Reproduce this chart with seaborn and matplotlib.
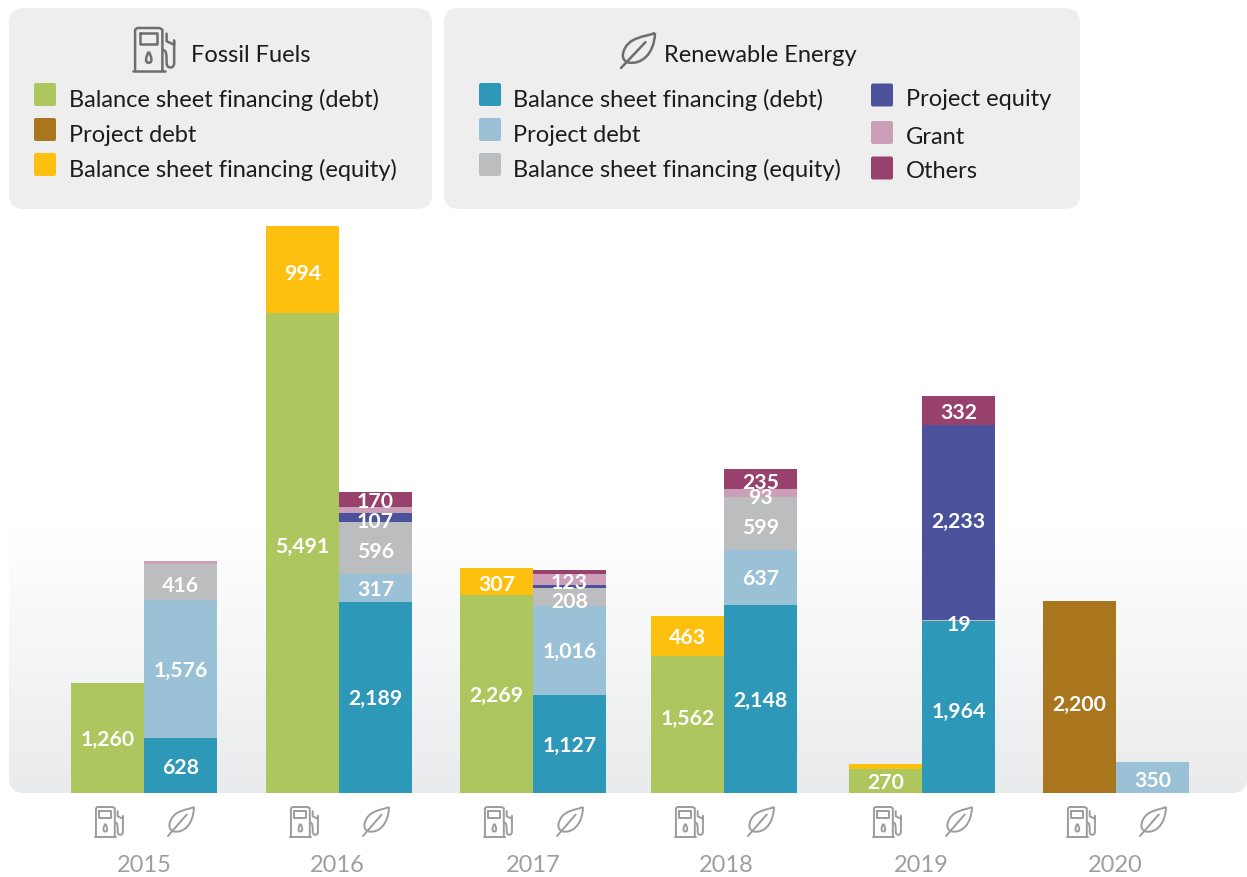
import numpy as np
import matplotlib
matplotlib.use("Agg")
import matplotlib.pyplot as plt
from matplotlib.patches import FancyBboxPatch, PathPatch
from matplotlib.path import Path
import seaborn as sns

# Data
years = ["2015", "2016", "2017", "2018", "2019", "2020"]

fossil_bs_debt = [1260, 5491, 2269, 1562, 270, 0]
fossil_project_debt = [0, 0, 0, 0, 0, 2200]
fossil_bs_equity = [0, 994, 307, 463, 65, 0]

renew_bs_debt = [628, 2189, 1127, 2148, 1964, 0]
renew_project_debt = [1576, 317, 1016, 637, 0, 350]
renew_bs_equity = [416, 596, 208, 599, 19, 0]
renew_project_equity = [0, 107, 30, 0, 2233, 0]
renew_grant = [35, 60, 123, 93, 0, 0]
renew_others = [0, 170, 45, 235, 332, 0]

unlabelled = {65, 30, 35, 60, 45}

legend_fossil = ["Balance sheet financing (debt)", "Project debt", "Balance sheet financing (equity)"]
legend_renew = ["Balance sheet financing (debt)", "Project debt", "Balance sheet financing (equity)"]
legend_renew2 = ["Project equity", "Grant", "Others"]

GREEN, BROWN, YELLOW = "#adc65e", "#a9761e", "#fec00f"
TEAL, LBLUE, GREY = "#2e98b9", "#9bc1d6", "#bcbdbf"
PURPLE, PINK, MAROON = "#4c519b", "#cb9fb8", "#97416c"
ICON_LIGHT = "#9b9c9f"
ICON_DARK = "#6d6e70"
TEXT_DARK = "#1c1c1c"

# Layout, all in reference pixels
W, H = 1247, 877
BASE = 793
PX_PER_UNIT = 0.0874
BAR_W = 73
centers = np.array([144, 339, 533, 724, 922, 1116])
year_x = [144, 337.5, 533, 726, 921, 1115]

# labels that don't sit at the middle of their band (px, + is down)
label_nudge = {5491: -8, 1562: -8, 2200: 6, 107: 3, 416: 2, 596: 2, 307: 2, 599: 3, 1964: 3,
               2233: -2, 19: 2, 123: 1, 208: 3, 93: 3, 235: 2, 350: 1, 994: 2, 332: 1}

sns.set_theme(style="white")
plt.rcParams["font.family"] = ["Lato", "DejaVu Sans"]

fig = plt.figure(figsize=(W / 100, H / 100), dpi=100)
bg = fig.add_axes([0, 0, 1, 1], zorder=0)
bg.set_xlim(0, W)
bg.set_ylim(H, 0)
bg.axis("off")

ax = fig.add_axes([0, 0, 1, 1], zorder=1)
ax.patch.set_alpha(0)


def rounded(x0, y0, x1, y1, color, r=15, axes=bg, **kw):
    p = FancyBboxPatch((x0 + r, y0 + r), x1 - x0 - 2 * r, y1 - y0 - 2 * r,
                       boxstyle=f"round,pad={r},rounding_size={r}",
                       fc=color, ec="none", **kw)
    axes.add_patch(p)
    return p


def pump(x, y, w, h, color, lw):
    def X(u):
        return x + u * w

    def Y(v):
        return y + v * h

    kw = dict(color=color, lw=lw, solid_capstyle="round", solid_joinstyle="round")
    # body, base, window
    bg.plot(X(np.array([0.05, 0.05, 0.10, 0.63, 0.70, 0.70])), Y(np.array([0.97, 0.04, 0, 0, 0.04, 0.97])), **kw)
    bg.plot([X(0), X(0.75)], [Y(0.98), Y(0.98)], **kw)
    bg.plot(X(np.array([0.17, 0.58, 0.58, 0.17, 0.17])), Y(np.array([0.12, 0.12, 0.36, 0.36, 0.12])), **kw)
    # drop
    verts = [(0.375, 0.54), (0.30, 0.66), (0.28, 0.79), (0.375, 0.79), (0.47, 0.79), (0.45, 0.66), (0.375, 0.54)]
    codes = [Path.MOVETO, Path.CURVE4, Path.CURVE4, Path.CURVE4, Path.CURVE4, Path.CURVE4, Path.CURVE4]
    bbox = [(X(a), Y(b)) for a, b in verts]
    bg.add_patch(PathPatch(Path(bbox, codes), fc="none", ec=color, lw=lw))
    # hose and nozzle
    hv = [(0.70, 0.50), (0.80, 0.50), (0.80, 0.60), (0.80, 0.80),
          (0.80, 0.93), (0.98, 0.93), (0.98, 0.80), (0.98, 0.30), (0.98, 0.30), (0.98, 0.30)]
    hc = [Path.MOVETO, Path.CURVE4, Path.CURVE4, Path.CURVE4, Path.CURVE4, Path.CURVE4, Path.CURVE4,
          Path.CURVE4, Path.CURVE4, Path.CURVE4]
    bg.add_patch(PathPatch(Path([(X(a), Y(b)) for a, b in hv], hc), fc="none", ec=color, lw=lw))
    bg.plot(X(np.array([0.80, 0.80, 0.98, 0.98])), Y(np.array([0.13, 0.30, 0.38, 0.28])), **kw)


def leaf(x, y, w, h, color, lw):
    def P(a, b):
        return (x + a * w, y + b * h)

    verts = [P(1, 0), P(0.7, 0.12), P(0.18, 0.10), P(0.06, 0.58), P(0.03, 0.72), P(0.10, 0.80), P(0.2, 0.84),
             P(0.6, 0.92), P(0.98, 0.6), P(1, 0)]
    codes = [Path.MOVETO] + [Path.CURVE4] * 9
    bg.add_patch(PathPatch(Path(verts, codes), fc="none", ec=color, lw=lw, joinstyle="round"))
    bg.plot([x, x + 0.72 * w], [y + h, y + 0.26 * h], color=color, lw=lw, solid_capstyle="round")


# Gradient panel behind the bars
panel = rounded(9, 480, 1247, 793, "none", r=15)
grad = np.linspace(0, 1, 256)
top, bot = np.array([1, 1, 1]), np.array([0.914, 0.922, 0.925])
img = (top + (bot - top) * grad[:, None])[:, None, :]
im = bg.imshow(img, extent=(9, 1247, 793, 530), aspect="auto", zorder=0.5)
im.set_clip_path(panel)
bg.set_xlim(0, W)
bg.set_ylim(H, 0)

# Stacked bars
fossil_stack = [(fossil_bs_debt, GREEN), (fossil_project_debt, BROWN), (fossil_bs_equity, YELLOW)]
renew_stack = [(renew_bs_debt, TEAL), (renew_project_debt, LBLUE), (renew_bs_equity, GREY),
               (renew_project_equity, PURPLE), (renew_grant, PINK), (renew_others, MAROON)]

for stack, xs in [(fossil_stack, centers - BAR_W / 2), (renew_stack, centers + BAR_W / 2)]:
    bottom = np.zeros(len(years))
    for vals, color in stack:
        vals = np.array(vals, dtype=float)
        sns.barplot(x=xs, y=vals, bottom=bottom, native_scale=True, color=color, saturation=1,
                    width=BAR_W / np.diff(xs).min(), errorbar=None, linewidth=0, ax=ax)
        for xp, v, b in zip(xs, vals, bottom):
            if v == 0 or int(v) in unlabelled:
                continue
            ax.annotate(f"{int(v):,}", (xp, b + v / 2),
                        xytext=(0, -label_nudge.get(int(v), 0) * 0.72),
                        textcoords="offset points", ha="center", va="center_baseline",
                        color="white", fontweight="bold", fontsize=15.3, zorder=5)
        bottom = bottom + vals

ax.set_xlim(0, W)
ax.set_ylim(-(H - BASE) / PX_PER_UNIT, BASE / PX_PER_UNIT)
ax.axis("off")

# Legend panels
rounded(9, 8, 432, 209, "#eeeeee")
rounded(444, 8, 1080, 209, "#eeeeee")

pump(133, 28, 42, 44, ICON_DARK, 1.8)
leaf(621, 33, 34, 35, ICON_DARK, 1.8)
bg.text(191, 55, "Fossil Fuels", fontsize=17, color=TEXT_DARK, va="center")
bg.text(664, 55, "Renewable Energy", fontsize=17, color=TEXT_DARK, va="center")


def legend_col(x_sw, x_txt, sw_ys, txt_ys, labels, colors):
    for ys, yt, lab, col in zip(sw_ys, txt_ys, labels, colors):
        rounded(x_sw, ys - 11.5, x_sw + 22, ys + 11.5, col, r=2)
        bg.text(x_txt, yt, lab, fontsize=17, color=TEXT_DARK, va="center")


legend_col(34, 69, [94.5, 129.5, 164.5], [100, 135, 170], legend_fossil, [GREEN, BROWN, YELLOW])
legend_col(479, 513, [94.5, 129.5, 164.5], [100, 135, 170], legend_renew, [TEAL, LBLUE, GREY])
legend_col(871, 906, [95, 132.5, 168], [100, 137, 171], legend_renew2, [PURPLE, PINK, MAROON])

# Icons and years under the bars
for c, yx, yr in zip(centers, year_x, years):
    pump(c - 49.5, 807, 29, 31, ICON_LIGHT, 1.4)
    leaf(c + 24, 807, 26, 29, ICON_LIGHT, 1.4)
    bg.text(yx, 865, yr, fontsize=17, color="#9f9fa2", ha="center", va="center")

fig.savefig("out.png", dpi=100)
